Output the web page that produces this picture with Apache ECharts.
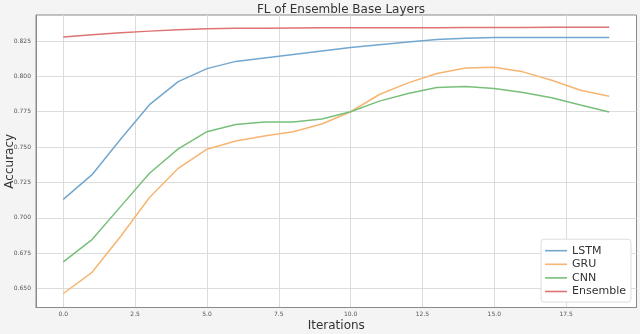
<!DOCTYPE html>
<html><head><meta charset="utf-8">
<script src="https://cdn.jsdelivr.net/npm/echarts@6/dist/echarts.min.js"></script>
<style>html,body{margin:0;padding:0;background:#f4f4f4}#c{width:640px;height:334px}</style>
</head><body><div id="c"></div>
<script>
const iterations = [0,1,2,3,4,5,6,7,8,9,10,11,12,13,14,15,16,17,18,19];
const lstm = [0.713,0.7305,0.7557,0.780,0.7963,0.8055,0.8106,0.813,0.8154,0.818,0.8205,0.8224,0.8243,0.826,0.827,0.8275,0.8275,0.8275,0.8275,0.8275];
const gru = [0.6465,0.6615,0.687,0.7144,0.735,0.7485,0.7543,0.7578,0.7609,0.7663,0.775,0.7872,0.7954,0.802,0.806,0.8064,0.8032,0.7973,0.7902,0.786];
const cnn = [0.6688,0.6846,0.7081,0.7315,0.7487,0.7609,0.766,0.7677,0.7677,0.7698,0.775,0.7825,0.7879,0.7921,0.7928,0.7914,0.7886,0.7849,0.7797,0.7748];
const ensemble = [0.8278,0.8294,0.8308,0.832,0.833,0.8337,0.834,0.8341,0.8342,0.8343,0.8343,0.8344,0.8344,0.8344,0.8345,0.8345,0.8346,0.8347,0.8348,0.8348];
const xTicks = [0,2.5,5,7.5,10,12.5,15,17.5];
const yTicks = [0.65,0.675,0.7,0.725,0.75,0.775,0.8,0.825];
const names = ['LSTM','GRU','CNN','Ensemble'];
const colors = ['#72a7cf','#f7b572','#78c07a','#de7373'];
const seriesData = [lstm,gru,cnn,ensemble];

const font = 'DejaVu Sans';
const chart = echarts.init(document.getElementById('c'), null, {renderer:'canvas'});
chart.setOption({
  backgroundColor:'#f4f4f4',
  animation:false,
  textStyle:{fontFamily:font},
  title:{text:'FL of Ensemble Base Layers', left:336, top:-1, textAlign:'center',
    textStyle:{fontFamily:font,fontSize:12,fontWeight:'normal',color:'#333'}},
  grid:{left:36,right:3.5,top:15,bottom:26.5,outerBoundsMode:'none',containLabel:false,
    show:true,backgroundColor:'#fff',borderColor:'#8a8a8a',borderWidth:1},
  legend:{orient:'vertical', right:9, bottom:32, data:names, icon:'rect', itemWidth:22, itemHeight:1.6,
    itemGap:2.6, backgroundColor:'#fff', borderColor:'#ddd', borderWidth:1, borderRadius:3,
    padding:[6,5,5,4], textStyle:{fontFamily:font,fontSize:11,color:'#333'}},
  xAxis:{type:'value', min:-0.95, max:19.95,
    name:'Iterations', nameLocation:'middle', nameGap:12, nameMoveOverlap:false,
    nameTextStyle:{fontFamily:font,fontSize:12,color:'#333'},
    axisLine:{show:true,onZero:false,lineStyle:{color:'#8a8a8a',width:1}},
    axisTick:{show:false,customValues:xTicks},
    axisLabel:{customValues:xTicks,fontSize:6,color:'#555',margin:4,formatter:v=>v.toFixed(1)},
    splitLine:{show:true,lineStyle:{color:'#dcdcdc',width:1}}},
  yAxis:{type:'value', min:0.6366, max:0.8434,
    name:'Accuracy', nameLocation:'middle', nameGap:20, nameRotate:90, nameMoveOverlap:false,
    nameTextStyle:{fontFamily:font,fontSize:12,color:'#333'},
    axisLine:{show:true,onZero:false,lineStyle:{color:'#8a8a8a',width:1}},
    axisTick:{show:false,customValues:yTicks},
    axisLabel:{customValues:yTicks,fontSize:6,color:'#555',margin:5,formatter:v=>v.toFixed(3)},
    splitLine:{show:true,lineStyle:{color:'#dcdcdc',width:1}}},
  series: names.map((n,i)=>({
    name:n, type:'line', showSymbol:false, symbol:'none',
    data: iterations.map((x,j)=>[x, seriesData[i][j]]),
    lineStyle:{color:colors[i],width:1.5}, itemStyle:{color:colors[i]}
  }))
});
</script></body></html>
